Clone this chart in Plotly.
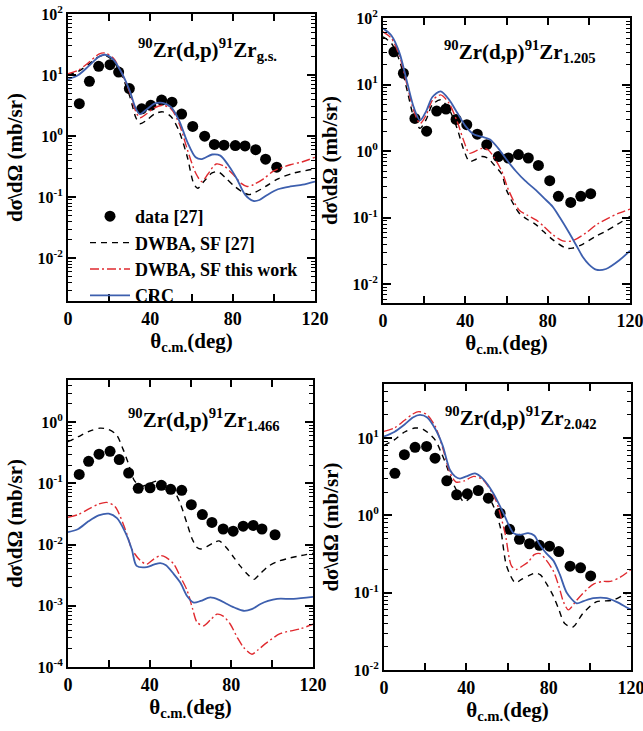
import plotly.graph_objects as go
import numpy as np

# ---------------- data ----------------
# Panel 1: ground state
gs_data_x = [5.5, 10.4, 14.9, 20.4, 24.6, 29.8, 35.8, 40.2, 45.5, 50.5, 55.2, 60.6, 66.4, 71.1, 75.8, 81.3, 86.0, 91.2, 96.0, 101.4]
gs_data_y = [3.4, 7.9, 13.9, 14.8, 11.2, 6.0, 2.8, 3.2, 3.9, 3.6, 2.3, 1.44, 1.0, 0.73, 0.71, 0.70, 0.69, 0.60, 0.42, 0.31]
gs_crc_x = [0, 5, 10, 15, 18, 22, 26, 30, 33, 35, 38, 42, 46, 50, 54, 58, 62, 65, 70, 74, 78, 82, 86, 90, 93, 97, 102, 108, 114, 120]
gs_crc_y = [8.5, 10, 14, 20, 21.5, 18, 11, 5.5, 2.8, 2.3, 2.7, 3.4, 3.5, 3.0, 1.8, 0.8, 0.45, 0.42, 0.5, 0.48, 0.33, 0.2, 0.11, 0.087, 0.09, 0.11, 0.135, 0.15, 0.16, 0.18]
gs_sfw_x = [0, 5, 10, 15, 18, 22, 26, 30, 33, 35, 38, 42, 46, 50, 54, 58, 62, 65, 68, 72, 76, 80, 84, 87, 90, 95, 100, 108, 114, 120]
gs_sfw_y = [10.5, 12, 16, 22, 23, 19, 11, 5.2, 2.5, 2.0, 2.3, 2.9, 3.2, 2.8, 1.6, 0.6, 0.25, 0.18, 0.24, 0.35, 0.32, 0.24, 0.17, 0.15, 0.16, 0.2, 0.27, 0.34, 0.38, 0.45]
gs_sf27_x = [0, 5, 10, 15, 18, 22, 26, 30, 33, 35, 38, 42, 46, 50, 54, 58, 61, 63, 66, 70, 73, 77, 81, 85, 88, 91, 96, 102, 110, 120]
gs_sf27_y = [10, 11.5, 15, 20, 21, 17, 10, 4.5, 2.0, 1.6, 1.8, 2.3, 2.5, 2.1, 1.2, 0.45, 0.17, 0.14, 0.18, 0.25, 0.26, 0.2, 0.15, 0.12, 0.11, 0.12, 0.15, 0.2, 0.25, 0.29]

# Panel 2: 1.205 MeV
e1_data_x = [5.3, 9.9, 15.5, 21.2, 26.1, 30.6, 35.5, 40.7, 45.8, 50.4, 56.0, 60.9, 65.8, 70.6, 75.5, 81.0, 85.2, 91.2, 96.1, 100.9]
e1_data_y = [31, 14.8, 3.1, 2.0, 4.0, 4.3, 3.0, 2.5, 1.8, 1.25, 0.83, 0.79, 0.89, 0.79, 0.61, 0.36, 0.21, 0.17, 0.21, 0.23]
e1_crc_x = [0, 4, 8, 12, 15, 18, 21, 24, 28, 32, 36, 40, 44, 48, 52, 56, 60, 64.6, 69, 74.3, 78, 82.4, 86, 90.5, 94, 97, 100, 103.5, 108.3, 114.8, 120]
e1_crc_y = [70, 55, 30, 10, 4.5, 2.9, 4.0, 6.5, 7.9, 6.0, 3.8, 2.4, 1.8, 1.65, 1.5, 1.1, 0.75, 0.5, 0.36, 0.26, 0.2, 0.147, 0.1, 0.059, 0.038, 0.026, 0.02, 0.0166, 0.017, 0.023, 0.032]
e1_sfw_x = [0, 4, 8, 12, 15, 18, 21, 24, 28, 32, 36, 39, 42, 45, 48, 51, 54, 57.7, 61, 66.2, 70, 74.3, 78, 82.4, 87.3, 92, 98.5, 104, 109.8, 114, 120]
e1_sfw_y = [62, 50, 27, 9, 4.0, 2.6, 3.5, 5.8, 7.0, 5.3, 2.8, 1.5, 0.93, 1.0, 1.1, 1.05, 0.8, 0.5, 0.26, 0.13, 0.11, 0.093, 0.075, 0.056, 0.045, 0.045, 0.059, 0.08, 0.1, 0.115, 0.135]
e1_sf27_x = [0, 4, 8, 12, 15, 18, 21, 24, 28, 32, 36, 39, 42, 45, 48, 51, 54, 57.7, 60, 66.2, 70, 74.3, 78, 82.4, 88.9, 92, 97, 103, 108.3, 114, 120]
e1_sf27_y = [52, 42, 23, 7.5, 3.2, 2.2, 3.0, 5.0, 5.9, 4.3, 2.2, 1.1, 0.7, 0.75, 0.83, 0.78, 0.62, 0.45, 0.26, 0.117, 0.095, 0.079, 0.062, 0.047, 0.035, 0.035, 0.04, 0.052, 0.063, 0.08, 0.105]

# Panel 3: 1.466 MeV
e2_data_x = [5.5, 10.1, 15.2, 20.6, 25.1, 29.7, 34.4, 40.2, 45.7, 50.3, 55.7, 60.4, 65.8, 70.5, 76.0, 80.9, 85.8, 90.7, 95.0, 101.4]
e2_data_y = [0.14, 0.23, 0.30, 0.335, 0.245, 0.148, 0.083, 0.085, 0.093, 0.08, 0.077, 0.045, 0.031, 0.023, 0.018, 0.0166, 0.02, 0.0206, 0.018, 0.0145]
e2_crc_x = [0, 5, 10, 15, 20, 24, 28, 31.2, 33.6, 38.6, 42, 45.2, 48, 51.8, 55, 58.3, 61.6, 65, 69.7, 74, 77.9, 82, 86, 90, 94.3, 98, 102.4, 110.5, 120]
e2_crc_y = [0.016, 0.018, 0.024, 0.03, 0.032, 0.027, 0.016, 0.0085, 0.0045, 0.0043, 0.0047, 0.005, 0.0046, 0.0033, 0.0024, 0.00145, 0.00113, 0.0012, 0.00137, 0.00125, 0.00107, 0.00092, 0.00083, 0.00088, 0.00107, 0.0012, 0.0013, 0.0013, 0.0014]
e2_sfw_x = [0, 5, 10, 15, 19, 23, 27, 29.4, 31.2, 35.4, 38.6, 42, 45.2, 48, 51.8, 55, 58.3, 61, 63.2, 66.4, 70, 73, 76, 79.5, 83, 86, 90.1, 93, 97.4, 103.9, 113.7, 120]
e2_sfw_y = [0.028, 0.031, 0.038, 0.046, 0.049, 0.042, 0.022, 0.013, 0.0085, 0.0055, 0.0048, 0.0058, 0.0066, 0.0062, 0.0048, 0.003, 0.0018, 0.0009, 0.00054, 0.00047, 0.0006, 0.00073, 0.00068, 0.0005, 0.0003, 0.00021, 0.000162, 0.00019, 0.00025, 0.00035, 0.00042, 0.0005]
e2_sf27_x = [0, 5, 10, 15.7, 20, 23.8, 27, 29.4, 32.6, 36, 40, 44, 48, 52, 55, 58.3, 61, 63.2, 65, 68, 71.5, 74, 77.5, 81.2, 84.5, 87.8, 91, 94, 97.6, 102, 107.4, 114, 120]
e2_sf27_y = [0.48, 0.58, 0.7, 0.8, 0.76, 0.62, 0.36, 0.22, 0.11, 0.09, 0.1, 0.11, 0.1, 0.075, 0.047, 0.022, 0.012, 0.009, 0.0085, 0.0093, 0.0108, 0.0115, 0.009, 0.0062, 0.0044, 0.0033, 0.0027, 0.0033, 0.0043, 0.0052, 0.0059, 0.0066, 0.0072]

# Panel 4: 2.042 MeV
e3_data_x = [5.3, 9.9, 15.1, 20.7, 24.8, 30.5, 35.3, 40.5, 45.8, 50.7, 56.4, 61.0, 65.8, 70.7, 75.5, 80.4, 84.9, 90.4, 95.5, 100.4]
e3_data_y = [3.5, 6.1, 7.6, 7.8, 5.5, 2.8, 1.85, 1.9, 2.1, 1.67, 1.07, 0.66, 0.49, 0.43, 0.41, 0.40, 0.34, 0.22, 0.21, 0.165]
e3_crc_x = [0, 5, 10, 14, 17.5, 21, 25, 28.5, 32, 34.5, 36.9, 40, 44.2, 48, 53.1, 58, 62.9, 66, 70, 73, 75.8, 79, 82.3, 85.5, 88.8, 93.6, 97, 101.7, 108.2, 113, 118.7, 120]
e3_crc_y = [10.5, 12, 15, 18.5, 20, 18.5, 13, 8, 3.9, 3.2, 3.0, 3.2, 3.5, 3.0, 1.94, 1.07, 0.59, 0.56, 0.59, 0.55, 0.41, 0.32, 0.26, 0.17, 0.1, 0.073, 0.078, 0.085, 0.085, 0.076, 0.063, 0.061]
e3_sfw_x = [0, 5, 10, 14, 17, 21, 25, 28.5, 32, 35, 39, 43.6, 48, 54.2, 58.8, 62, 64.4, 67, 70.1, 73, 75.8, 79, 82.3, 85, 87.2, 89.6, 93.6, 98.5, 102, 106.5, 110, 115, 120]
e3_sfw_y = [12.2, 13.5, 17, 20.5, 22, 20, 14, 7.5, 3.6, 2.7, 2.8, 3.2, 2.9, 1.6, 0.59, 0.22, 0.2, 0.22, 0.25, 0.31, 0.32, 0.26, 0.19, 0.12, 0.076, 0.06, 0.08, 0.11, 0.13, 0.14, 0.14, 0.16, 0.2]
e3_sf27_x = [0, 5, 10, 15, 19, 24.8, 28, 30.5, 33, 35.3, 38.8, 42, 45.2, 49, 52.5, 56.4, 59.6, 63.8, 67, 71.1, 73.5, 76, 79, 82.3, 85, 87.8, 91.8, 96.6, 103.1, 111.2, 118.7, 120]
e3_sf27_y = [8.0, 9.5, 12, 13.5, 13, 9.5, 6.3, 4.3, 2.8, 2.1, 1.5, 1.7, 2.05, 1.9, 1.44, 0.72, 0.22, 0.135, 0.15, 0.17, 0.18, 0.17, 0.13, 0.09, 0.06, 0.04, 0.036, 0.054, 0.076, 0.08, 0.1, 0.1]

panel_titles = [
    "<sup>90</sup>Zr(d,p)<sup>91</sup>Zr<sub>g.s.</sub>",
    "<sup>90</sup>Zr(d,p)<sup>91</sup>Zr<sub>1.205</sub>",
    "<sup>90</sup>Zr(d,p)<sup>91</sup>Zr<sub>1.466</sub>",
    "<sup>90</sup>Zr(d,p)<sup>91</sup>Zr<sub>2.042</sub>",
]
series_names = ["data [27]", "DWBA, SF [27]", "DWBA, SF this work", "CRC"]
x_ticks = [0, 40, 80, 120]
y_exponents = [-4, -3, -2, -1, 0, 1, 2]

# ---------------- style ----------------
FONT = "Liberation Serif"
BLUE = "#3d5fae"
RED = "#e02a2f"
W, H = 643, 731

panels = [
    dict(data=(gs_data_x, gs_data_y), sf27=(gs_sf27_x, gs_sf27_y), sfw=(gs_sfw_x, gs_sfw_y), crc=(gs_crc_x, gs_crc_y),
         px=(68, 315), py=(14, 301), yr=(-2.7, 2)),
    dict(data=(e1_data_x, e1_data_y), sf27=(e1_sf27_x, e1_sf27_y), sfw=(e1_sfw_x, e1_sfw_y), crc=(e1_crc_x, e1_crc_y),
         px=(383, 630), py=(18, 303), yr=(-2.28, 2)),
    dict(data=(e2_data_x, e2_data_y), sf27=(e2_sf27_x, e2_sf27_y), sfw=(e2_sfw_x, e2_sfw_y), crc=(e2_crc_x, e2_crc_y),
         px=(68, 313), py=(380, 667), yr=(-4, 0.69)),
    dict(data=(e3_data_x, e3_data_y), sf27=(e3_sf27_x, e3_sf27_y), sfw=(e3_sfw_x, e3_sfw_y), crc=(e3_crc_x, e3_crc_y),
         px=(384, 631), py=(384, 670), yr=(-2, 1.7)),
]
title_pos = [(207, 49), (520, 52), (204, 419), (521, 417)]

fig = go.Figure()
layout = dict(width=W, height=H, margin=dict(l=0, r=0, t=0, b=0, autoexpand=False),
              plot_bgcolor="white", paper_bgcolor="white",
              font=dict(family=FONT, size=18, color="black", weight="bold"))

annotations = []
for i, p in enumerate(panels):
    k = "" if i == 0 else str(i + 1)
    xa, ya = "x" + k, "y" + k
    show = (i == 0)
    fig.add_trace(go.Scatter(x=p["data"][0], y=p["data"][1], mode="markers", name=series_names[0],
                             marker=dict(color="black", size=11), xaxis=xa, yaxis=ya, showlegend=show))
    fig.add_trace(go.Scatter(x=p["sf27"][0], y=p["sf27"][1], mode="lines", name=series_names[1],
                             line=dict(color="black", width=1.4, dash="6px,5px", shape="spline", smoothing=0.8),
                             xaxis=xa, yaxis=ya, showlegend=show))
    fig.add_trace(go.Scatter(x=p["sfw"][0], y=p["sfw"][1], mode="lines", name=series_names[2],
                             line=dict(color=RED, width=1.4, dash="9px,3px,2px,3px", shape="spline", smoothing=0.8),
                             xaxis=xa, yaxis=ya, showlegend=show))
    fig.add_trace(go.Scatter(x=p["crc"][0], y=p["crc"][1], mode="lines", name=series_names[3],
                             line=dict(color=BLUE, width=1.8, shape="spline", smoothing=0.8),
                             xaxis=xa, yaxis=ya, showlegend=show))

    x0, x1 = p["px"]
    y0, y1 = p["py"]
    lo, hi = p["yr"]
    exps = [e for e in y_exponents if lo - 1e-6 <= e <= hi + 1e-6]
    minors = [m * 10.0 ** e for e in range(int(np.floor(lo)), int(np.ceil(hi)) + 1) for m in range(2, 10)
              if lo <= np.log10(m * 10.0 ** e) <= hi]
    layout["xaxis" + k] = dict(
        domain=[x0 / W, x1 / W], anchor=ya, range=[0, 120], automargin=False, ticklabeloverflow="allow",
        tickmode="array", tickvals=x_ticks, ticktext=[str(v) for v in x_ticks],
        ticks="inside", ticklen=7, tickwidth=1.5, tickcolor="black",
        minor=dict(tickmode="array", tickvals=[20, 60, 100], ticks="inside", ticklen=7, tickwidth=1.5, tickcolor="black"),
        showline=True, linewidth=2, linecolor="black", mirror="ticks", showgrid=False, zeroline=False,
        tickfont=dict(family=FONT, size=18, weight="bold"),
        title=dict(text="θ<sub>c.m.</sub>(deg)", font=dict(family=FONT, size=21, weight="bold"), standoff=2),
    )
    layout["yaxis" + k] = dict(
        domain=[1 - y1 / H, 1 - y0 / H], anchor=xa, type="log", range=[lo, hi], automargin=False,
        ticklabeloverflow="allow",
        tickmode="array", tickvals=[10.0 ** e for e in exps],
        ticktext=["10<sup>%s</sup>" % (str(e) if e >= 0 else "-" + str(-e)) for e in exps],
        ticks="inside", ticklen=8, tickwidth=1.5, tickcolor="black",
        minor=dict(tickmode="array", tickvals=minors, ticks="inside", ticklen=4, tickwidth=1, tickcolor="black"),
        showline=True, linewidth=2, linecolor="black", mirror="ticks", showgrid=False, zeroline=False,
        tickfont=dict(family=FONT, size=16, weight="bold"),
        title=dict(text="dσ\\dΩ (mb/sr)", font=dict(family=FONT, size=21, weight="bold"), standoff=9),
    )
    tx, ty = title_pos[i]
    annotations.append(dict(text=panel_titles[i], x=tx / W, y=1 - ty / H, xref="paper", yref="paper",
                            showarrow=False, xanchor="center", yanchor="middle",
                            font=dict(family=FONT, size=21, weight="bold")))

layout["annotations"] = annotations
layout["legend"] = dict(x=85 / W, y=1 - 198 / H, xanchor="left", yanchor="top", bgcolor="rgba(0,0,0,0)",
                        font=dict(family=FONT, size=18, weight="bold"), tracegroupgap=0, itemwidth=40)
fig.update_layout(**layout)
fig.write_html("out.html", config={"displayModeBar": False},
               post_script="document.body.style.margin='0';document.body.style.padding='0';"
                           "document.body.style.overflow='hidden';")
